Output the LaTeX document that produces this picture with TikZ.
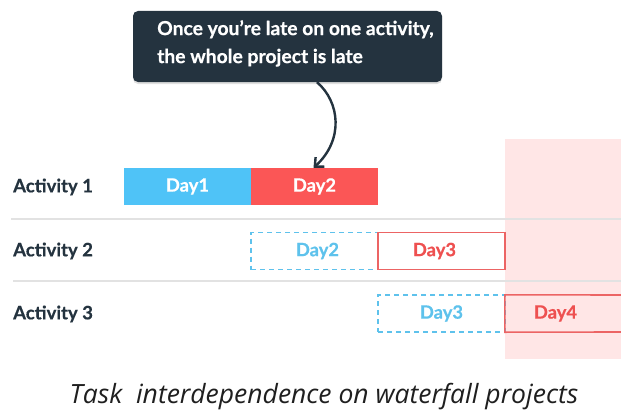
\documentclass[tikz,border=0pt]{standalone}
\usepackage{fontspec}
\setmainfont{Lato}
\newfontfamily\capfont{Open Sans}
\usetikzlibrary{arrows.meta,shadows}
\definecolor{navy}{HTML}{24333F}
\definecolor{actblue}{HTML}{4FC3F7}
\definecolor{dashblue}{HTML}{5EC2EC}
\definecolor{actred}{HTML}{FB5656}
\definecolor{outred}{HTML}{EC6464}
\definecolor{txtred}{HTML}{EE5050}
\definecolor{pinkbg}{HTML}{FFE6E6}
\definecolor{rowline}{HTML}{E2E2E2}
\newcommand\heavy{\bfseries\addfontfeature{FakeBold=0.6}}
\tikzset{
  lab/.style={font=\heavy\fontsize{18.5}{18.5}\selectfont, text=navy, anchor=west, inner sep=0pt},
  daybox/.style={minimum width=127pt, minimum height=37pt, inner sep=0pt, font=\heavy\fontsize{18.3}{18.3}\selectfont},
  done/.style={daybox, fill=actblue, text=white},
  late/.style={daybox, fill=actred, text=white},
  plan/.style={daybox, draw=dashblue, line width=1.4pt, dash pattern=on 5pt off 4pt, text=dashblue},
  slip/.style={daybox, draw=outred, line width=1.6pt, text=txtred},
  sep/.style={draw=rowline, line width=1.5pt},
}
\begin{document}
\begin{tikzpicture}[x=1pt,y=-1pt]
\useasboundingbox (0,0) rectangle (621,412);
% late zone
\fill[pinkbg] (505,139) rectangle (621,359);
% separators
\draw[sep] (11,219) -- (621,219);
\draw[sep] (13,281) -- (621,281);
% row labels
\node[lab] (a1) at (13,187) {Activity 1};
\node[lab] (a2) at (13,251) {Activity 2};
\node[lab] (a3) at (13,314) {Activity 3};
% activity 1
\node[done] (d1) at (187.5,186.5) {\raisebox{1.5pt}{Day1}};
\node[late] (d2) at (314.5,186.5) {Day2};
% activity 2
\node[plan] (p2) at (314.5,251) {\hspace*{6pt}Day2};
\node[slip] (s3) at (441.5,251) {\hspace*{-14pt}Day3};
% activity 3
\node[plan] (p3) at (441.5,313.5) {\raisebox{2pt}{Day3}};
\node[daybox, text=txtred] (s4) at (568.5,313.5) {\hspace*{-26pt}Day4};
\draw[outred, line width=1.6pt] (621,295) -- (s4.north west) -- (s4.south west) -- (621,332);
% callout
\node[fill=navy, rounded corners=5pt, minimum width=309pt, minimum height=71pt,
      drop shadow={shadow xshift=0pt, shadow yshift=-2pt, opacity=0.25}] (callout) at (287.5,46.5) {};
\node[anchor=north west, align=left, text=white, inner sep=0pt,
      font=\heavy\fontsize{19.3}{28}\selectfont] (ctext) at (157,20) {Once you’re late on one activity,\\the whole project is late};
\draw[navy, line width=2.4pt, -{Straight Barb[length=7pt,width=13pt,line width=2.4pt]}]
  ([xshift=29.5pt]callout.south) .. controls (340,102) and (344,140) .. ([xshift=-1pt]d2.north);
% caption
\node[font=\capfont\itshape\fontsize{26.5}{26.5}\selectfont, text=black!88] (cap) at (324,397) {Task\ \ interdependence on waterfall projects};
\end{tikzpicture}
\end{document}
